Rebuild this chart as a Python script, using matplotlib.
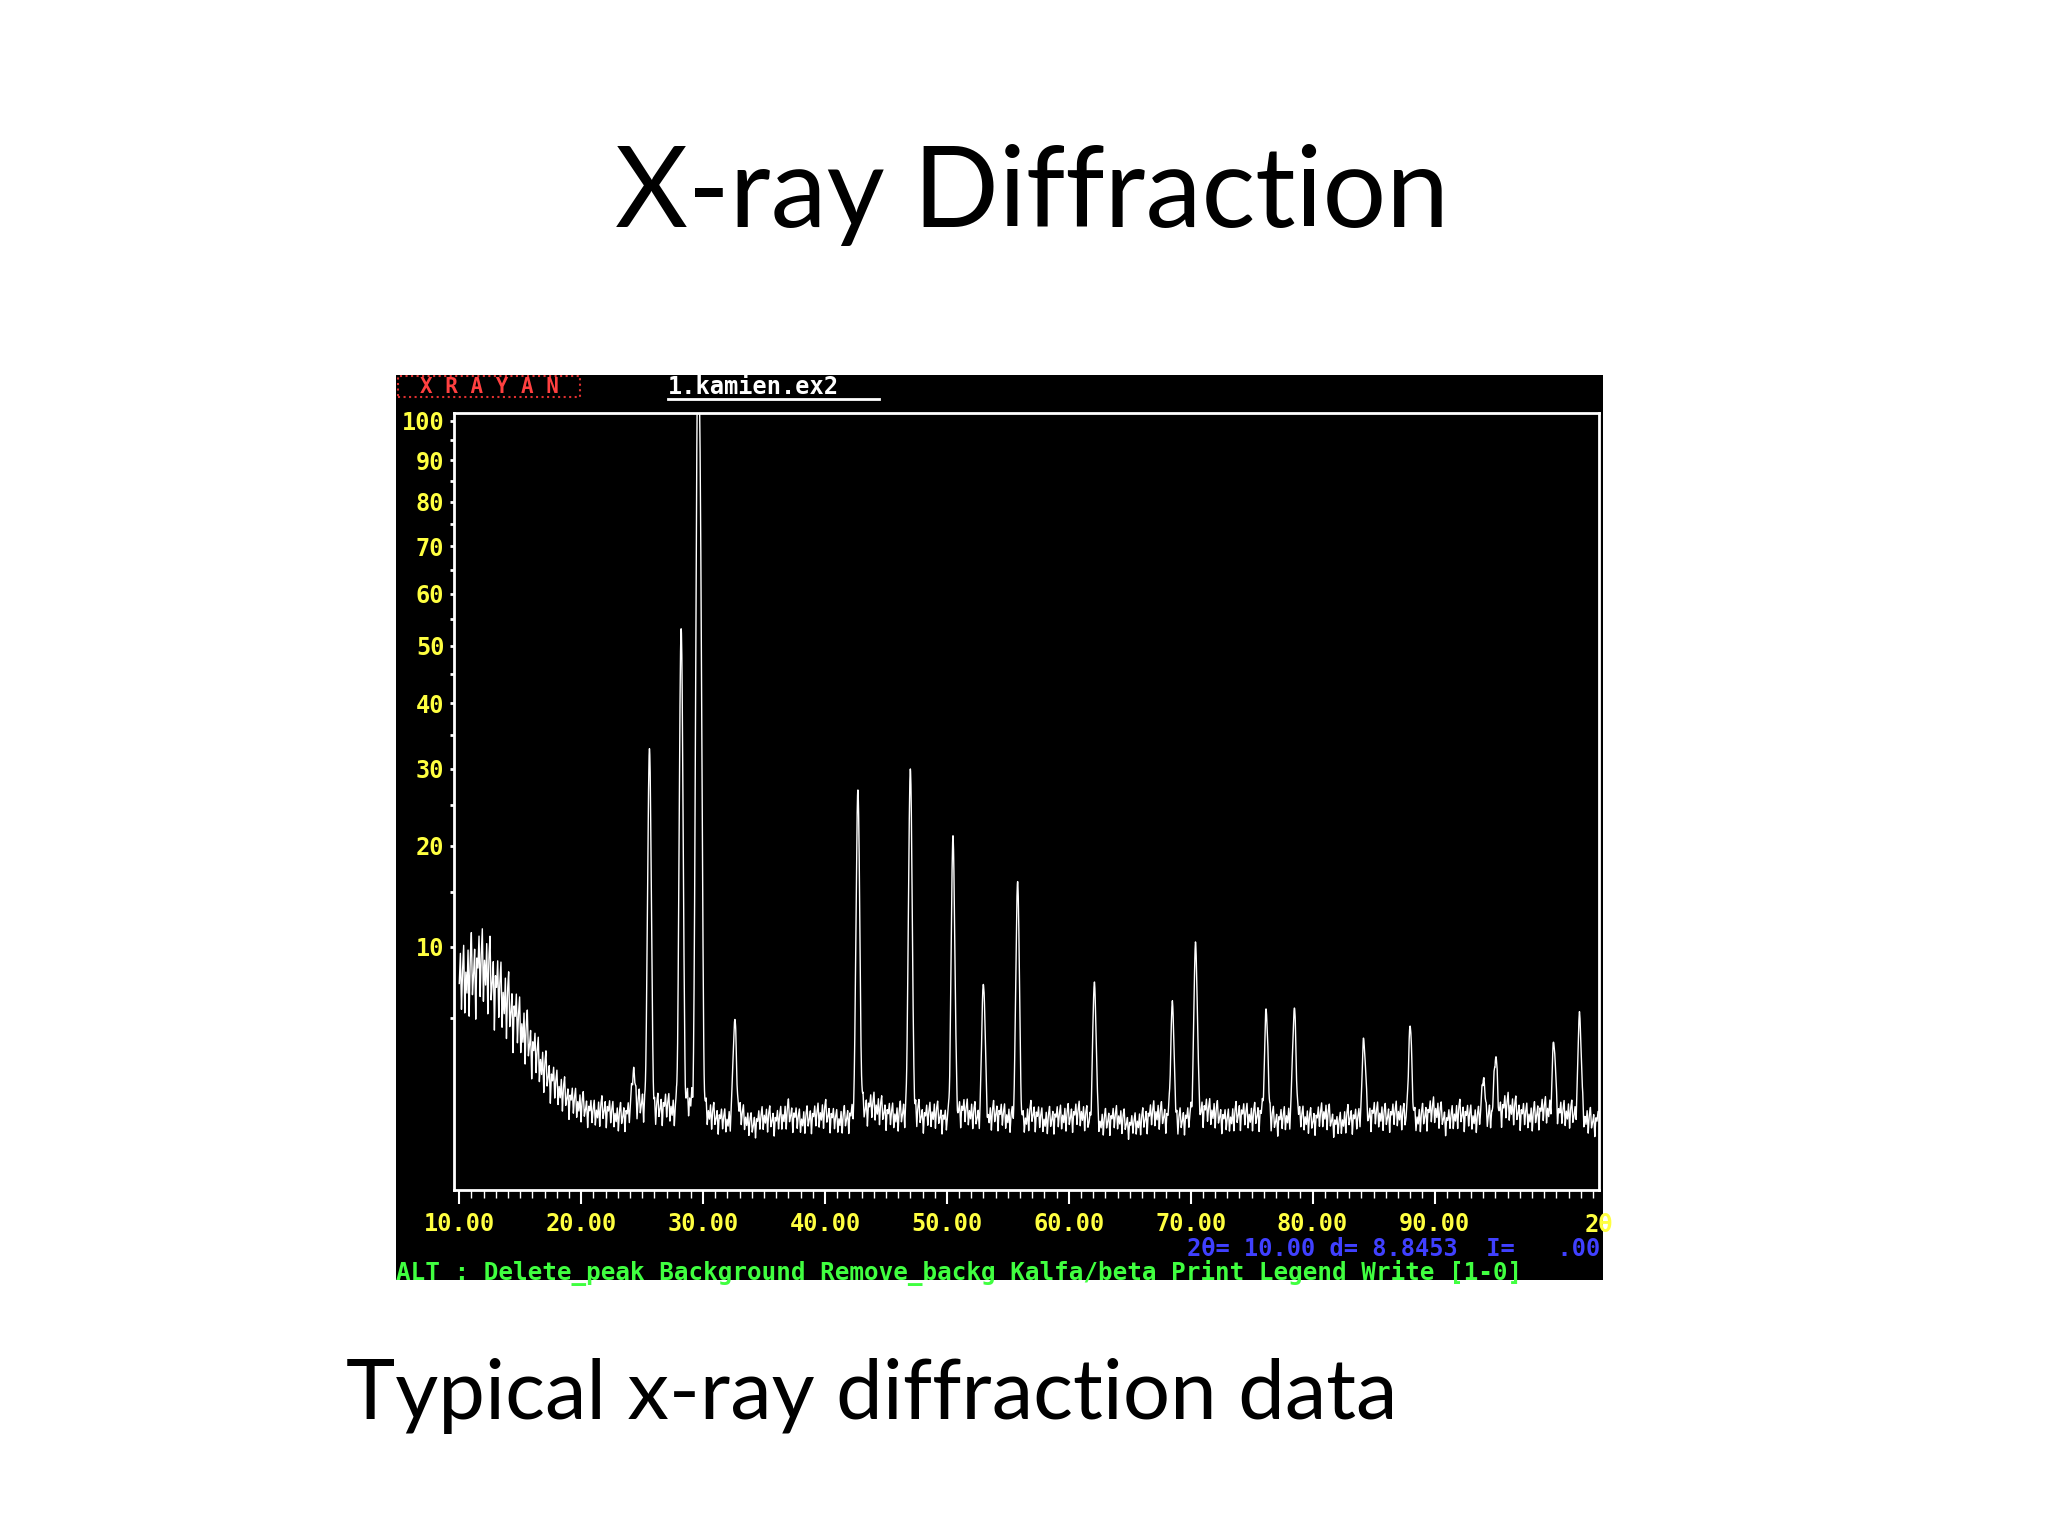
import numpy as np
import matplotlib
matplotlib.use("Agg")
import matplotlib.pyplot as plt
from matplotlib.patches import Rectangle

# ---- data ----
peak_pos = [24.3, 25.6, 28.2, 29.55, 29.75, 32.6, 42.7, 47.0, 50.5, 53.0, 55.8, 62.1,
            68.5, 70.4, 76.2, 78.5, 84.2, 88.0, 94.0, 95.0, 99.8, 101.9]
peak_int = [1.4, 31.5, 52.5, 99.0, 68.0, 4.0, 26.0, 28.6, 20.0, 6.4, 15.3, 6.4,
            4.9, 9.2, 4.5, 4.7, 3.0, 3.7, 1.4, 2.0, 2.6, 4.2]
bg_pos = list(range(10, 104))
bg_int = [7.2, 8.0, 8.6, 7.0, 5.8, 4.6, 3.4, 2.4, 1.8, 1.4, 1.2, 1.0, 1.1, 0.9, 1.0, 1.3, 1.1, 1.2,
          1.0, 1.4, 1.1, 0.9, 0.8, 1.0, 0.7, 0.9, 0.8, 1.0, 0.8, 0.9, 1.0, 0.8, 0.9, 1.1, 1.2,
          1.0, 0.9, 1.2, 0.9, 1.0, 0.8, 1.1, 1.0, 0.8, 1.0, 0.9, 0.7, 1.0, 0.8, 0.9, 0.9, 1.0,
          0.7, 0.8, 0.9, 0.7, 0.8, 1.0, 0.9, 0.8, 0.9, 1.1, 1.0, 0.8, 1.0, 0.9, 1.0, 0.8, 0.9,
          0.9, 0.8, 1.0, 0.7, 0.9, 0.8, 1.0, 0.9, 1.0, 0.8, 0.9, 1.1, 0.8, 1.0, 0.9, 0.8, 1.0,
          1.2, 1.0, 0.9, 1.1, 1.0, 1.0, 0.9, 0.8]
wiggle = [0.0, 0.3, -0.25, 0.1, 0.35, -0.3, 0.05, -0.15, 0.25, -0.35, 0.15, 0.4, -0.2,
          -0.05, 0.2, -0.4, 0.1]
x_ticks = [10, 20, 30, 40, 50, 60, 70, 80, 90]
x_labels = ["10.00", "20.00", "30.00", "40.00", "50.00", "60.00", "70.00", "80.00", "90.00"]
y_ticks = [10, 20, 30, 40, 50, 60, 70, 80, 90, 100]

x = np.arange(10.0, 103.5, 0.09)
y = np.interp(x, bg_pos, bg_int)
w = np.array(wiggle * (len(x) // len(wiggle) + 1))[:len(x)]
y = y * (1 + w)
xf = np.arange(10.0, 103.5, 0.015)
yf = np.interp(xf, x, y)
for p, h in zip(peak_pos, peak_int):
    g = 0.12
    yf = yf + h * np.exp(-0.5 * ((xf - p) / g) ** 2)

fig = plt.figure(figsize=(20.48, 15.36), dpi=100, facecolor="white")
fig.text(0.504, 0.873, "X-ray Diffraction", ha="center", va="center", fontsize=81, family="Lato")
fig.text(0.169, 0.091, "Typical x-ray diffraction data", ha="left", va="center", fontsize=60, family="Lato")

panel = fig.add_axes([0.1934, 0.1667, 0.5893, 0.5892])
panel.set_facecolor("black")
panel.set_xlim(0, 1); panel.set_ylim(0, 1); panel.axis("off")
panel.add_patch(Rectangle((0, 0), 1, 1, color="black", transform=panel.transAxes))
mono = dict(family="DejaVu Sans Mono", fontweight="bold", fontsize=17)
panel.add_patch(Rectangle((0.002, 0.976), 0.15, 0.023, fill=False, ec="#e03030", ls=":", lw=1.5))
panel.text(0.077, 0.987, "X R A Y A N", color="#ff4040", ha="center", va="center",
           family="DejaVu Sans Mono", fontweight="bold", fontsize=15)
panel.text(0.225, 0.987, "1.kamien.ex2", color="white", ha="left", va="center", **mono)
panel.plot([0.225, 0.4], [0.973, 0.973], color="white", lw=2)
panel.text(0.998, 0.034, "2θ= 10.00 d= 8.8453  I=   .00", color="#4040ff", ha="right", va="center", **mono)
panel.text(0.0, 0.008, "ALT : Delete_peak Background Remove_backg Kalfa/beta Print Legend Write [1-0]",
           color="#40ff40", ha="left", va="center", family="DejaVu Sans Mono", fontweight="bold", fontsize=17.5)

ax = fig.add_axes([0.2217, 0.2253, 0.5591, 0.5059])
ax.set_facecolor("black")
ax.plot(xf, yf, color="white", lw=1.0)
ax.set_yscale("function", functions=(lambda v: np.sqrt(np.clip(v, 0, None)), lambda v: v**2))
ax.set_ylim(0, 102)
ax.set_xlim(9.57, 103.5)
for s in ax.spines.values():
    s.set_color("white"); s.set_linewidth(2)
ax.set_xticks(x_ticks, x_labels)
ax.set_xticks(np.arange(10, 104, 1), minor=True)
ax.set_yticks(y_ticks, [str(t) for t in y_ticks])
ax.set_yticks([5, 15, 25, 35, 45, 55, 65, 75, 85, 95], minor=True)
ax.tick_params(axis="x", which="major", colors="white", length=10, width=1.5, direction="out", pad=6)
ax.tick_params(axis="x", which="minor", colors="white", length=6, width=1, direction="out")
ax.tick_params(axis="y", which="both", colors="white", length=3, width=2, direction="out", pad=4)
for lab in ax.get_xticklabels() + ax.get_yticklabels():
    lab.set_color("#ffff40"); lab.set_family("DejaVu Sans Mono"); lab.set_fontweight("bold"); lab.set_fontsize(17)
ax.text(1.0, -0.03, "2θ", transform=ax.transAxes, color="#ffff40", ha="center", va="top", **mono)

fig.savefig("out.png", dpi=100, facecolor="white")
